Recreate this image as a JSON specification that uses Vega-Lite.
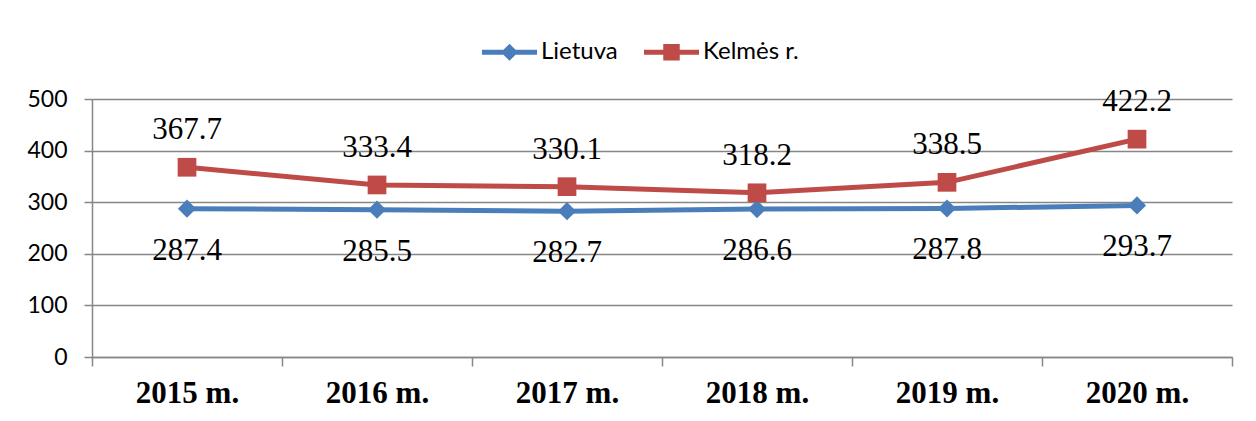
{
  "$schema": "https://vega.github.io/schema/vega-lite/v6.json",
  "autosize": {"type": "none"},
  "padding": {"left": 92, "top": 99, "right": 24, "bottom": 64},
  "width": 1140,
  "height": 258,
  "background": "white",
  "data": {"values": [
    {"year": "2015 m.", "series": "Lietuva", "value": 287.4},
    {"year": "2016 m.", "series": "Lietuva", "value": 285.5},
    {"year": "2017 m.", "series": "Lietuva", "value": 282.7},
    {"year": "2018 m.", "series": "Lietuva", "value": 286.6},
    {"year": "2019 m.", "series": "Lietuva", "value": 287.8},
    {"year": "2020 m.", "series": "Lietuva", "value": 293.7},
    {"year": "2015 m.", "series": "Kelmės r.", "value": 367.7},
    {"year": "2016 m.", "series": "Kelmės r.", "value": 333.4},
    {"year": "2017 m.", "series": "Kelmės r.", "value": 330.1},
    {"year": "2018 m.", "series": "Kelmės r.", "value": 318.2},
    {"year": "2019 m.", "series": "Kelmės r.", "value": 338.5},
    {"year": "2020 m.", "series": "Kelmės r.", "value": 422.2}
  ]},
  "encoding": {
    "x": {
      "field": "year", "type": "nominal", "sort": null,
      "scale": {"type": "band", "paddingInner": 0, "paddingOuter": 0},
      "axis": {
        "title": null, "labelAngle": 0, "tickBand": "extent",
        "labelFont": "Liberation Serif", "labelFontSize": 31, "labelFontWeight": "bold", "labelColor": "black",
        "tickSize": 9, "labelPadding": 12,
        "domainColor": "#868686", "domainWidth": 1.5, "tickColor": "#868686", "tickWidth": 1.5,
        "grid": false
      }
    },
    "y": {
      "field": "value", "type": "quantitative",
      "scale": {"domain": [0, 500], "nice": false},
      "axis": {
        "title": null, "values": [0, 100, 200, 300, 400, 500],
        "labelFont": "Lato", "labelFontSize": 23, "labelColor": "black",
        "tickSize": 8, "labelPadding": 17,
        "domainColor": "#868686", "domainWidth": 1.5, "tickColor": "#868686", "tickWidth": 1.5,
        "grid": true, "gridColor": "#868686", "gridWidth": 1.5
      }
    }
  },
  "layer": [
    {
      "mark": {"type": "line", "strokeWidth": 5},
      "encoding": {
        "color": {
          "field": "series", "type": "nominal",
          "scale": {"domain": ["Lietuva", "Kelmės r."], "range": ["#4A7EBB", "#BE4B48"]},
          "legend": {
            "title": null, "orient": "none", "direction": "horizontal",
            "legendX": 390, "legendY": -74.5, "padding": 0,
            "symbolSize": 3025, "labelOffset": 4, "columnPadding": 26,
            "labelFont": "Lato", "labelFontSize": 24, "labelColor": "black",
            "encode": {
              "symbols": {
                "update": {
                  "shape": {"signal": "datum.value === 'Lietuva' ? 'M-1,-0.09L-0.22,-0.09L0,-0.31L0.22,-0.09L1,-0.09L1,0.09L0.22,0.09L0,0.31L-0.22,0.09L-1,0.09Z' : 'M-1,-0.09L-0.3,-0.09L-0.3,-0.3L0.3,-0.3L0.3,-0.09L1,-0.09L1,0.09L0.3,0.09L0.3,0.3L-0.3,0.3L-0.3,0.09L-1,0.09Z'"},
                  "fill": {"signal": "datum.value === 'Lietuva' ? '#4A7EBB' : '#BE4B48'"},
                  "stroke": {"value": "transparent"},
                  "strokeWidth": {"value": 0},
                  "opacity": {"value": 1},
                  "fillOpacity": {"value": 1}
                }
              }
            }
          }
        }
      }
    },
    {
      "transform": [{"filter": "datum.series === 'Lietuva'"}],
      "mark": {"type": "point", "filled": true, "opacity": 1, "size": 330, "shape": "diamond", "color": "#4A7EBB"}
    },
    {
      "transform": [{"filter": "datum.series === 'Kelmės r.'"}],
      "mark": {"type": "point", "filled": true, "opacity": 1, "size": 350, "shape": "square", "color": "#BE4B48"}
    },
    {
      "transform": [{"filter": "datum.series === 'Kelmės r.'"}],
      "mark": {"type": "text", "font": "Liberation Serif", "fontSize": 31, "color": "black", "baseline": "middle", "dy": -37},
      "encoding": {"text": {"field": "value", "type": "quantitative", "format": ".1f"}}
    },
    {
      "transform": [{"filter": "datum.series === 'Lietuva'"}],
      "mark": {"type": "text", "font": "Liberation Serif", "fontSize": 31, "color": "black", "baseline": "middle", "dy": 42},
      "encoding": {"text": {"field": "value", "type": "quantitative", "format": ".1f"}}
    }
  ],
  "config": {"view": {"stroke": null}}
}
